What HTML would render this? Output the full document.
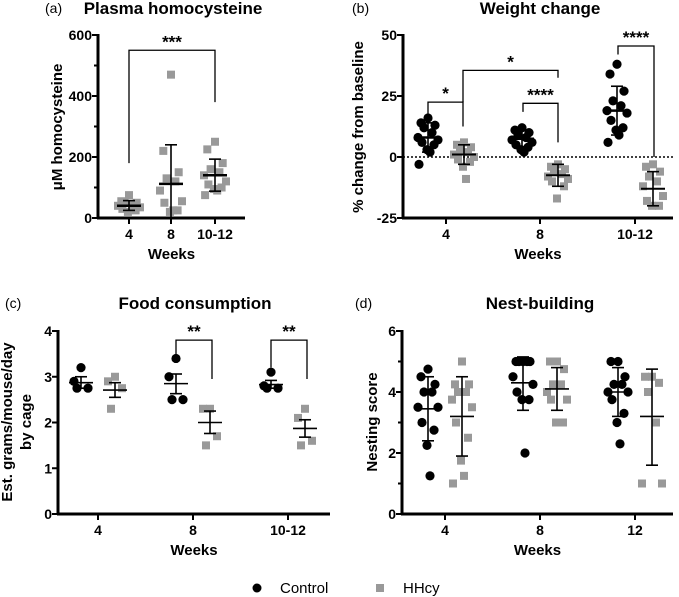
<!DOCTYPE html>
<html><head><meta charset="utf-8"><style>
html,body{margin:0;padding:0;background:#fff;width:679px;height:597px;overflow:hidden}
svg{display:block;font-family:"Liberation Sans",Arial,sans-serif}
</style></head><body>
<svg id="fig" width="679" height="597" viewBox="0 0 679 597" xmlns="http://www.w3.org/2000/svg"></svg>
<script>
// ---- Panel A data: plasma homocysteine (HHcy only)
const aCats = ["4","8","10-12"];
const aHHcy = [[75,55,50,50,45,40,35,30,25,20],[470,220,150,130,120,90,55,50,25,20,25],[250,225,180,160,150,140,120,110,100,95,90,75]];
const aMean = [40,112,140];
const aErrLo = [25,0,88];
const aErrHi = [57,240,193];
const aTicks = [0,200,400,600];
// ---- Panel B data: weight change
const bCats = ["4","8","10-12"];
const bCtrl = [[16,14,13,12,10,8,7,6,5,3,2,-3],[12,11,10,9,8,7,6,5,4,3,2],[38,34,27,23,21,19,18,15,12,11,9,6]];
const bHHcy = [[6,5,4,3,2,1,0,-1,-2,-4,-9],[-3,-4,-5,-6,-7,-8,-9,-10,-12,-17],[-3,-4,-6,-8,-10,-12,-16,-18,-20,-20]];
const bCtrlMean = [8,7.5,19], bCtrlLo=[2,4,9], bCtrlHi=[14,11,29];
const bHHcyMean = [1,-7.5,-13], bHHcyLo=[-3,-12,-20], bHHcyHi=[5,-3,-6];
const bTicks = [-25,0,25,50];
// ---- Panel C data: food consumption
const cCats = ["4","8","10-12"];
const cCtrl = [[3.2,2.9,2.75,2.75],[3.4,3.0,2.5,2.5],[3.1,2.8,2.75,2.75]];
const cHHcy = [[3.0,2.9,2.75,2.3],[2.3,2.3,1.7,1.5],[2.3,2.1,1.6,1.5]];
const cCtrlMean=[2.87,2.85,2.83], cCtrlLo=[2.75,2.63,2.75], cCtrlHi=[3.0,3.06,2.92];
const cHHcyMean=[2.71,2.0,1.87], cHHcyLo=[2.55,1.76,1.68], cHHcyHi=[2.87,2.25,2.06];
const cTicks=[0,1,2,3,4];
// ---- Panel D data: nest building
const dCats = ["4","8","12"];
const dCtrl = [[4.75,4.5,4.25,4,4,3.5,3.5,3,2.75,2.25,1.25],[5,5,5,5,5,4.5,4.25,4,3.75,3.75,2],[5,5,4.5,4.25,4.25,4,4,3.75,3.3,3,2.3]];
const dHHcy = [[5,4.25,4.25,4,4,3.75,3.5,3,2.5,1.75,1.25,1],[5,5,4.75,4.25,4.25,4,3.75,3.75,3,3],[4.5,4.5,4.3,4,3,1,1]];
const dCtrlMean=[3.45,4.3,4.0], dCtrlLo=[2.4,3.4,3.2], dCtrlHi=[4.5,5.15,4.8];
const dHHcyMean=[3.2,4.1,3.2], dHHcyLo=[1.9,3.4,1.6], dHHcyHi=[4.5,4.8,4.75];
const dTicks=[0,2,4,6];

const NS="http://www.w3.org/2000/svg";
const svg=document.getElementById('fig');
function mk(tag,attrs,parent){const e=document.createElementNS(NS,tag);for(const k in attrs)e.setAttribute(k,attrs[k]);(parent||svg).appendChild(e);return e;}
function txt(s,x,y,size,weight,anchor,parent,rot){const t=mk('text',{x:x,y:y,'font-size':size,'font-weight':weight,'text-anchor':anchor||'middle',fill:'#000'},parent);if(rot)t.setAttribute('transform','rotate(-90 '+x+' '+y+')');t.textContent=s;return t;}
const jit=[0,-7,7,-4,4,-10,10,-6,6,-1,2,-9,9];
const GREY='#999';

function panel(o){
  const g=mk('g',{});
  
  
  const y=v=>o.y0+(v-o.vmin)/(o.vmax-o.vmin)*(o.y1-o.y0);
  const x=i=>o.gx[i];
  const ax=mk('g',{},g);
  
  
  mk('line',{x1:o.ax,y1:y(o.vmax)-1,x2:o.ax,y2:y(o.vmin)+1,stroke:'#000','stroke-width':3},ax);
  o.ticks.forEach(t=>{mk('line',{x1:o.ax-6,y1:y(t),x2:o.ax,y2:y(t),stroke:'#000','stroke-width':2},ax);
    const l=txt(String(t),o.ax-6,y(t)+5,14,'bold','end',ax);
    
    });
  (o.minor||[]).forEach(t=>mk('line',{x1:o.ax-4,y1:y(t),x2:o.ax,y2:y(t),stroke:'#000','stroke-width':2},ax));
  const xa=mk('g',{},g);
  
  
  mk('line',{x1:o.ax-1,y1:y(o.vmin),x2:o.xend,y2:y(o.vmin),stroke:'#000','stroke-width':3},xa);
  o.cats.forEach((c,i)=>{mk('line',{x1:x(i),y1:y(o.vmin),x2:x(i),y2:y(o.vmin)+6,stroke:'#000','stroke-width':2},xa);
    const l=txt(c,x(i),y(o.vmin)+21,14,'bold','middle',xa);
    
    });
  const wl=txt('Weeks',(o.ax+o.xend)/2,y(o.vmin)+41,15,'bold','middle',g);
  
  
  const tt=txt(o.title,o.tx,o.ty,17,'bold','middle',g);
  
  
  const lt=txt(o.letter,o.lx,o.ty-1,14,'normal','start',g);
  
  
  o.ylab.forEach((s,k)=>{const yl=txt(s,o.ylx[k],o.yly,15,'bold','middle',g,true);
    
    });
  if(o.zero){const z=mk('line',{x1:o.ax,y1:y(0),x2:o.xend,y2:y(0),stroke:'#000','stroke-width':1.5,'stroke-dasharray':'2,2'},g);
    
    }
  o.series.forEach(s=>{
    const sg=mk('g',{},g);
    
    
    s.vals.forEach((arr,i)=>{
      const cx=x(i)+s.off;
      arr.forEach((v,j)=>{
        const jx=cx+jit[j%jit.length]*(s.spread||1);
        let m;
        if(s.shape==='circle'){m=mk('circle',{cx:jx,cy:y(v),r:4.6,fill:'#000'},sg);}
        else {m=mk('rect',{x:jx-4,y:y(v)-4,width:8,height:8,fill:GREY},sg);}
        
        
      });
      const eb=mk('g',{},sg);
      
      
      mk('line',{x1:cx,y1:y(s.lo[i]),x2:cx,y2:y(s.hi[i]),stroke:'#000','stroke-width':1.6},eb);
      mk('line',{x1:cx-6,y1:y(s.lo[i]),x2:cx+6,y2:y(s.lo[i]),stroke:'#000','stroke-width':1.6},eb);
      mk('line',{x1:cx-6,y1:y(s.hi[i]),x2:cx+6,y2:y(s.hi[i]),stroke:'#000','stroke-width':1.6},eb);
      mk('line',{x1:cx-s.mw,y1:y(s.mean[i]),x2:cx+s.mw,y2:y(s.mean[i]),stroke:'#000','stroke-width':s.mt},eb);
    });
  });
  (o.brackets||[]).forEach(b=>{
    const bg=mk('g',{},g);
    
    
    mk('polyline',{points:`${b[0]},${y(b[3])} ${b[0]},${y(b[2])} ${b[1]},${y(b[2])} ${b[1]},${y(b[4])}`,fill:'none',stroke:'#000','stroke-width':1.3},bg);
    txt(b[5],(b[0]+b[1])/2,y(b[2])-3,17,'bold','middle',bg);
  });
}

panel({name:'panel-a-homocysteine',title:'Plasma homocysteine',letter:'(a)',tx:173,ty:14,lx:45,
  ax:98,xend:245,y0:218,y1:35,vmin:0,vmax:600,ticks:aTicks,minor:[100,300,500],cats:aCats,gx:[129,171,215],
  ylab:['\u03bcM homocysteine'],ylx:[62],yly:127,
  series:[{name:'hhcy-series',shape:'square',vals:aHHcy,mean:aMean,lo:aErrLo,hi:aErrHi,off:0,mw:12,mt:2.5,spread:1.1}],
  brackets:[[129,215,550,180,380,'***']]});

panel({name:'panel-b-weight',title:'Weight change',letter:'(b)',tx:540,ty:14,lx:352,
  ax:403,xend:673,y0:218,y1:35,vmin:-25,vmax:50,ticks:bTicks,cats:bCats,gx:[446,540,635],zero:true,
  ylab:['% change from baseline'],ylx:[363],yly:127,
  series:[{name:'control-series',shape:'circle',vals:bCtrl,mean:bCtrlMean,lo:bCtrlLo,hi:bCtrlHi,off:-18,mw:12,mt:2.5},
          {name:'hhcy-series',shape:'square',vals:bHHcy,mean:bHHcyMean,lo:bHHcyLo,hi:bHHcyHi,off:18,mw:12,mt:2},],
  brackets:[[428,463,22.5,14.5,12.5,'*'],[463,558,35.5,22.5,32.5,'*'],[523,558,22,18.5,6,'****'],[618,654,45.5,42,0,'****']]});

panel({name:'panel-c-food',title:'Food consumption',letter:'(c)',tx:195,ty:309,lx:5,
  ax:58,xend:330,y0:514,y1:331,vmin:0,vmax:4,ticks:cTicks,cats:cCats,gx:[98,193,288],
  ylab:['Est. grams/mouse/day','by cage'],ylx:[12,31],yly:422,
  series:[{name:'control-series',shape:'circle',vals:cCtrl,mean:cCtrlMean,lo:cCtrlLo,hi:cCtrlHi,off:-17,mw:12,mt:1.6,spread:1.0},
          {name:'hhcy-series',shape:'square',vals:cHHcy,mean:cHHcyMean,lo:cHHcyLo,hi:cHHcyHi,off:17,mw:12,mt:1.6,spread:1.0}],
  brackets:[[176,212,3.8,3.48,2.95],[271,307,3.8,3.2,2.95]].map((b,i)=>b.concat(['**']))});

panel({name:'panel-d-nesting',title:'Nest-building',letter:'(d)',tx:540,ty:309,lx:355,
  ax:402,xend:673,y0:514,y1:331,vmin:0,vmax:6,ticks:dTicks,minor:[1,3,5],cats:dCats,gx:[445,540,635],
  ylab:['Nesting score'],ylx:[377],yly:422,
  series:[{name:'control-series',shape:'circle',vals:dCtrl,mean:dCtrlMean,lo:dCtrlLo,hi:dCtrlHi,off:-17,mw:12,mt:1.6,spread:1.0},
          {name:'hhcy-series',shape:'square',vals:dHHcy,mean:dHHcyMean,lo:dHHcyLo,hi:dHHcyHi,off:17,mw:12,mt:1.6,spread:1.0}]});

const lg=mk('g',{});


const le1=mk('g',{},lg);


mk('circle',{cx:257,cy:588,r:4.5,fill:'#000'},le1);
txt('Control',280,593,15,'normal','start',le1);
const le2=mk('g',{},lg);


mk('rect',{x:376,y:584,width:8,height:8,fill:GREY},le2);
txt('HHcy',403,593,15,'normal','start',le2);
</script>
</body></html>
